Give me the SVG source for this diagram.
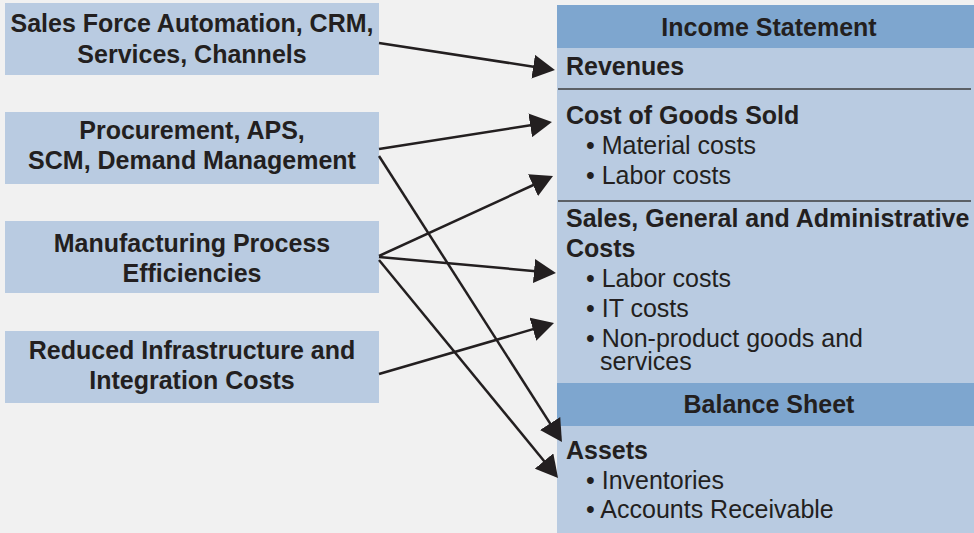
<svg xmlns="http://www.w3.org/2000/svg" width="974" height="533" viewBox="0 0 974 533">
  <style>
    .bg { fill: #f1f1f1; }
    .box { fill: #b9cbe1; }
    .head { fill: #7ea6cf; }
    .rule { stroke: #3c3c3c; stroke-width: 1.5; }
    text { font-family: "Liberation Sans", Arial, sans-serif; font-size: 25px; fill: #231f20; }
    .b { font-weight: bold; }
    .c { text-anchor: middle; }
    .link { fill: none; stroke: #231f20; stroke-width: 2.5; marker-end: url(#arrow); }
  </style>
  <defs>
    <marker id="arrow" markerUnits="userSpaceOnUse" markerWidth="22" markerHeight="24" refX="10" refY="12" orient="auto">
      <path d="M0,0 L22,12 L0,24 Z" fill="#231f20"/>
    </marker>
  </defs>

  <rect class="bg" x="0" y="0" width="974" height="533"/>

  <!-- Source initiatives -->
  <g id="sfa">
    <rect class="box" x="5" y="3" width="374" height="72"/>
    <text class="b c" x="192" y="32">Sales Force Automation, CRM,</text>
    <text class="b c" x="192" y="63">Services, Channels</text>
  </g>
  <g id="procurement">
    <rect class="box" x="5" y="112" width="374" height="72"/>
    <text class="b c" x="192" y="139">Procurement, APS,</text>
    <text class="b c" x="192" y="169">SCM, Demand Management</text>
  </g>
  <g id="manufacturing">
    <rect class="box" x="5" y="221" width="374" height="72"/>
    <text class="b c" x="192" y="252">Manufacturing Process</text>
    <text class="b c" x="192" y="282">Efficiencies</text>
  </g>
  <g id="infrastructure">
    <rect class="box" x="5" y="331" width="374" height="72"/>
    <text class="b c" x="192" y="359">Reduced Infrastructure and</text>
    <text class="b c" x="192" y="389">Integration Costs</text>
  </g>

  <!-- Financial statements panel -->
  <g id="income-statement">
    <rect class="box" x="557" y="5" width="417" height="378"/>
    <rect class="head" x="557" y="5" width="417" height="43"/>
    <text class="b c" x="769" y="36">Income Statement</text>
  </g>
  <g id="revenues">
    <text class="b" x="566" y="75">Revenues</text>
    <line class="rule" x1="558" y1="89" x2="971" y2="89"/>
  </g>
  <g id="cogs">
    <text class="b" x="566" y="124">Cost of Goods Sold</text>
    <text x="586" y="154">• Material costs</text>
    <text x="586" y="184">• Labor costs</text>
    <line class="rule" x1="558" y1="201" x2="971" y2="201"/>
  </g>
  <g id="sga">
    <text class="b" x="566" y="227">Sales, General and Administrative</text>
    <text class="b" x="566" y="257">Costs</text>
    <text x="586" y="287">• Labor costs</text>
    <text x="586" y="317">• IT costs</text>
    <text x="586" y="347">• Non-product goods and</text>
    <text x="600" y="370">services</text>
  </g>
  <g id="balance-sheet">
    <rect class="box" x="557" y="383" width="417" height="150"/>
    <rect class="head" x="557" y="383" width="417" height="43"/>
    <text class="b c" x="769" y="413">Balance Sheet</text>
  </g>
  <g id="assets">
    <text class="b" x="566" y="459">Assets</text>
    <text x="586" y="489">• Inventories</text>
    <text x="586" y="518">• Accounts Receivable</text>
  </g>

  <!-- Connectors -->
  <g id="connectors">
    <line class="link" x1="379" y1="43" x2="543.1" y2="68.2"/>
    <line class="link" x1="379" y1="149" x2="540.1" y2="123.8"/>
    <line class="link" x1="379" y1="156" x2="555.5" y2="431.9"/>
    <line class="link" x1="379" y1="256" x2="542.1" y2="181.0"/>
    <line class="link" x1="379" y1="257" x2="544.0" y2="271.9"/>
    <line class="link" x1="379" y1="260" x2="550.4" y2="468.7"/>
    <line class="link" x1="379" y1="374" x2="542.5" y2="326.4"/>
  </g>
</svg>
